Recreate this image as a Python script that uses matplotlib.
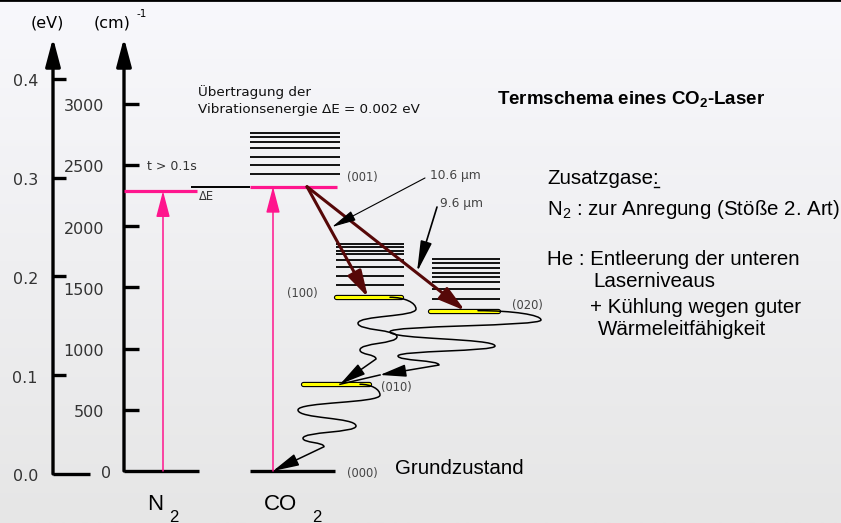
import numpy as np
import matplotlib.pyplot as plt
import matplotlib.patheffects as pe
import matplotlib.transforms as mtrans
from matplotlib.colors import LinearSegmentedColormap
from matplotlib.lines import Line2D
from matplotlib.patches import FancyArrowPatch
from matplotlib.path import Path

plt.rcParams['mathtext.fontset'] = 'custom'
plt.rcParams['mathtext.rm'] = 'Liberation Sans'
plt.rcParams['mathtext.bf'] = 'Liberation Sans:bold'

# energy scales
cm_ticks = [0, 500, 1000, 1500, 2000, 2500, 3000]
ev_ticks = [0.0, 0.1, 0.2, 0.3, 0.4]
CM_PER_EV = 8065.5
EV_OFFSET = -24      # eV scale is drawn a bit lower than the cm scale
E_TOP = 3535         # tip of the axis arrows

# level energies in cm^-1
n2_v1 = 2286
co2_001 = 2321
co2_100 = 1418
co2_020 = 1309
co2_010 = 708
co2_000 = 0
stack_001 = [2422, 2498, 2566, 2634, 2688, 2724, 2757]
stack_100 = [1518, 1594, 1668, 1722, 1771, 1798, 1827, 1851]
stack_020 = [1404, 1483, 1545, 1581, 1619, 1660, 1696, 1731]

# turning points of the radiationless decay wiggles (x px, energy cm^-1)
decay_100 = [(390, co2_100), (416, 1322), (358, 1206), (397, 1096),
             (360, 988), (376, 914), (340, co2_010)]
decay_020 = [(478, co2_020), (541, 1233), (390, 1137), (495, 1020),
             (398, 939), (439, 865), (380, 784)]
decay_010 = [(360, co2_010), (380, 620), (298, 498), (356, 367),
             (303, 267), (324, 198), (273, co2_000)]

W, H = 841, 523
Y_ZERO = 471          # pixel row of 0 cm^-1
PX_PER_CM = 0.1225
X_EV, X_CM = 53, 124
X_N2, X_CO2 = 163, 273

PINK = '#ff158d'
LASER = '#560808'
GREY_TXT = '#333333'

fig = plt.figure(figsize=(W / 100, H / 100), dpi=100)
ax = fig.add_axes([0, 0, 1, 1])
ylo, yhi = (Y_ZERO - H) / PX_PER_CM, Y_ZERO / PX_PER_CM
ax.set_xlim(0, W)
ax.set_ylim(ylo, yhi)
ax.axis('off')

# pixel transform for free text
px = mtrans.Affine2D().scale(1 / W, -1 / H).translate(0, 1) + fig.transFigure
below = mtrans.offset_copy(ax.transData, fig=fig, y=-3, units='dots')

bg = LinearSegmentedColormap.from_list('bg', ['#f8f8fc', '#e6e6e6'])
ax.imshow(np.linspace(0, 1, 256).reshape(-1, 1), cmap=bg, aspect='auto',
          extent=[0, W, ylo, yhi], zorder=0)
fig.add_artist(Line2D([0, 1], [1, 1], transform=fig.transFigure, color='black', lw=2))


def arrow(p0, p1, color, lw, hl, hw, z=3):
    ax.annotate('', xy=p1, xytext=p0, zorder=z,
                arrowprops=dict(arrowstyle=f'-|>,head_length={hl},head_width={hw}',
                                color=color, lw=lw, shrinkA=0, shrinkB=0,
                                mutation_scale=10))


def hline(x0, x1, e, color='black', lw=1.2, z=2):
    ax.plot([x0, x1], [e, e], color=color, lw=lw, solid_capstyle='butt', zorder=z)


def wiggle(points, k=0.55):
    verts, codes = [points[0]], [Path.MOVETO]
    for i in range(1, len(points) - 1):
        (x0, y0), (x1, y1) = points[i - 1], points[i]
        dy = y1 - y0
        c1 = (x0 + k * (x1 - x0), y0) if i == 1 else (x0, y0 + k * dy)
        verts += [c1, (x1, y1 - k * dy), (x1, y1)]
        codes += [Path.CURVE4] * 3
    verts.append(points[-1])
    codes.append(Path.LINETO)
    return Path(verts, codes)


# energy axes
arrow((X_EV, EV_OFFSET), (X_EV, E_TOP), 'black', 2.4, 1.7, 0.45)
arrow((X_CM, 0), (X_CM, E_TOP), 'black', 2.4, 1.7, 0.45)
for v in ev_ticks:
    e = v * CM_PER_EV + EV_OFFSET
    hline(X_EV, 90 if v == 0 else 66, e, lw=2.4)
    ax.text(38, e, f'{v:.1f}', transform=below, ha='right', va='center',
            fontsize=11.5, color=GREY_TXT)
for c in cm_ticks:
    hline(X_CM, 199 if c == 0 else 139, c, lw=2.4)
    ax.text(111 if c == 0 else 104, c, str(c), transform=below, ha='right',
            va='center', fontsize=11.5, color=GREY_TXT)
ax.text(47, 23, '(eV)', transform=px, ha='center', va='center', fontsize=11.5, color='black')
ax.text(112, 23, '(cm)', transform=px, ha='center', va='center', fontsize=11.5, color='black')
ax.text(137, 14, '-1', transform=px, ha='left', va='center', fontsize=7.5, color='black')

# N2
hline(X_CM, 197, n2_v1, color=PINK, lw=2.3, z=3)
arrow((X_N2, 0), (X_N2, n2_v1), PINK, 1.1, 1.6, 0.42)
ax.text(147, 166, 't > 0.1s', transform=px, va='center', fontsize=9, color=GREY_TXT)
ax.text(199, 197, '\u0394E', transform=px, va='center', fontsize=8.3, color=GREY_TXT)

# CO2 levels
hline(191, 250, co2_001, lw=1.4)
for e in stack_001:
    hline(250, 340, e, lw=1.3)
hline(250, 337, co2_001, color=PINK, lw=2.3, z=3)
arrow((X_CO2, 0), (X_CO2, co2_001), PINK, 1.1, 1.6, 0.42)
hline(250, 335, co2_000, lw=2.4)
for e in stack_100:
    hline(336, 404, e, lw=1.3)
for e in stack_020:
    hline(432, 500, e, lw=1.3)
for x0, x1, e in [(336, 401, co2_100), (430, 498, co2_020), (303, 369, co2_010)]:
    ax.plot([x0, x1], [e, e], color='#ffff00', lw=2.2, solid_capstyle='round', zorder=4,
            path_effects=[pe.Stroke(linewidth=3.8, foreground='black'), pe.Normal()])

# laser transitions
arrow((307, co2_001), (368, co2_100), LASER, 2.2, 1.6, 0.45, z=5)
arrow((307, co2_001), (465, co2_020), LASER, 2.2, 1.6, 0.45, z=5)
arrow((425, 2392), (332, 1992), 'black', 0.8, 1.5, 0.32, z=6)
arrow((437, 2155), (417, 1624), 'black', 1.2, 1.9, 0.35, z=6)

# radiationless decay
for pts in (decay_100, decay_010, decay_020):
    ax.add_patch(FancyArrowPatch(path=wiggle(pts), arrowstyle='-|>,head_length=1.6,head_width=0.38',
                                 mutation_scale=10, color='black', lw=1.1, zorder=5))
ax.plot([decay_020[-1][0], decay_100[-1][0]], [decay_020[-1][1], decay_100[-1][1]],
        color='black', lw=1.1, zorder=5)

# level labels
for x, y, s in [(347, 177, '(001)'), (287, 294, '(100)'), (512, 306, '(020)'),
                (381, 388, '(010)'), (347, 473, '(000)')]:
    ax.text(x, y, s, transform=px, va='center', fontsize=8.3, color='#444444')
ax.text(430, 175, '10.6 \u00b5m', transform=px, va='center', fontsize=8.8, color='#444444')
ax.text(440, 204, '9.6 \u00b5m', transform=px, va='center', fontsize=8.8, color='#444444')
ax.text(198, 92, '\u00dcbertragung der', transform=px, va='center', fontsize=9.7, color='#111111')
ax.text(198, 109, 'Vibrationsenergie \u0394E = 0.002 eV', transform=px, va='center',
        fontsize=9.7, color='#111111')

sans = 'Liberation Sans'
ax.text(395, 468, 'Grundzustand', transform=px, va='center', fontsize=14.8, family=sans)
ax.text(147, 505, 'N', transform=px, va='center', fontsize=16, family=sans)
ax.text(169, 517, '2', transform=px, va='center', fontsize=12, family=sans)
ax.text(264, 505, 'CO', transform=px, va='center', fontsize=16, family=sans)
ax.text(312, 517, '2', transform=px, va='center', fontsize=12, family=sans)

# right hand notes
FS = 14.8
ax.text(497, 105, r'Termschema eines CO$_\mathbf{2}$-Laser', transform=px, va='baseline',
        fontsize=13.5, fontweight='bold', family=sans)
zus = ax.text(547, 184, 'Zusatzgase:', transform=px, va='baseline', fontsize=FS, family=sans)
ax.text(547, 215, r'N$_2$ : zur Anregung (Stöße 2. Art)', transform=px, va='baseline',
        fontsize=FS, family=sans)
ax.text(547, 265, 'He : Entleerung der unteren', transform=px, va='baseline', fontsize=FS, family=sans)
ax.text(593, 287, 'Laserniveaus', transform=px, va='baseline', fontsize=FS, family=sans)
ax.text(590, 313, '+ Kühlung wegen guter', transform=px, va='baseline', fontsize=FS, family=sans)
ax.text(598, 335, 'Wärmeleitfähigkeit', transform=px, va='baseline', fontsize=FS, family=sans)

# underline under the colon
fig.canvas.draw()
bb = zus.get_window_extent()
fig.add_artist(Line2D([bb.x1 - 5, bb.x1], [H - 187, H - 187], transform=None,
                      color='black', lw=1))

fig.savefig('out.png', dpi=100)
